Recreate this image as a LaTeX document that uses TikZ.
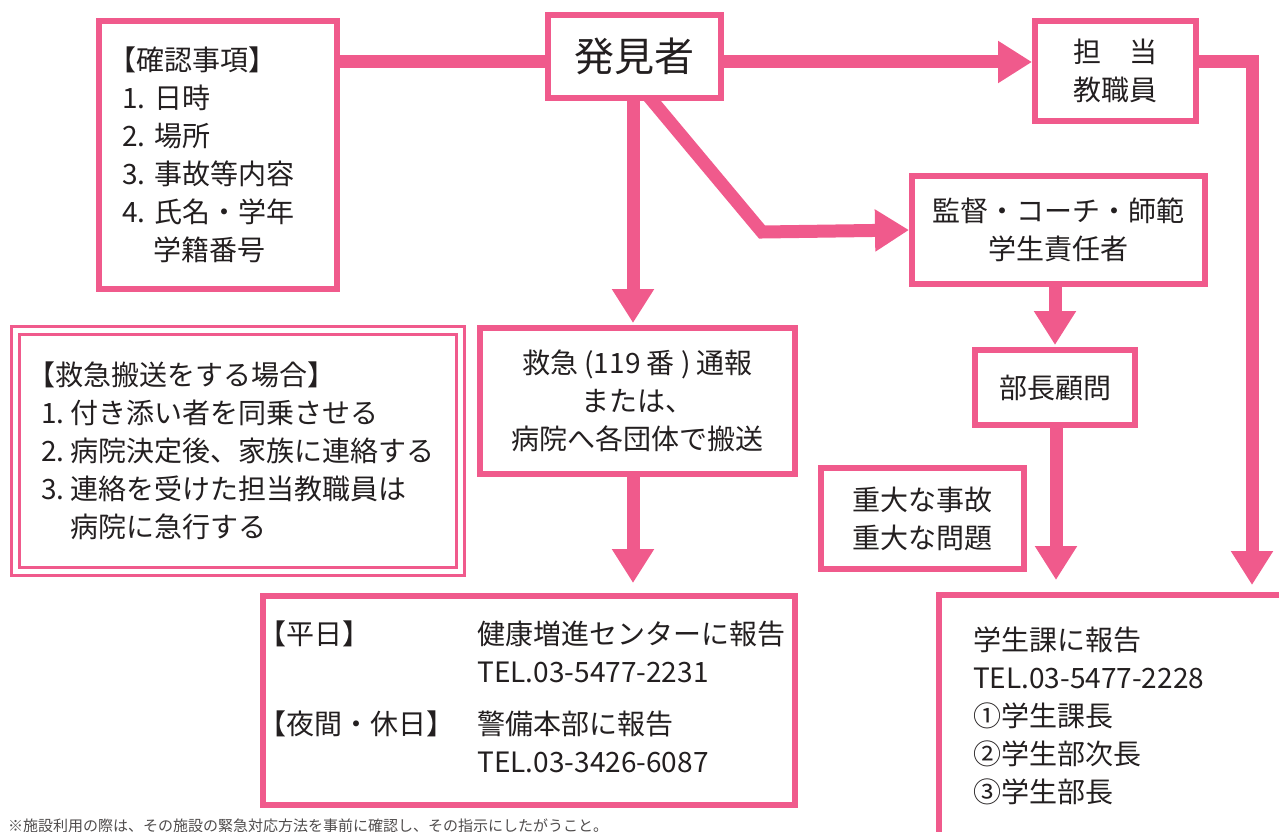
\documentclass[tikz,border=0pt]{standalone}
\usepackage{fontspec}
\setmainfont{Noto Sans CJK JP}
\usetikzlibrary{arrows.meta}
\usetikzlibrary{shadows}
\definecolor{pk}{HTML}{F05A8C}
\definecolor{txt}{HTML}{231F20}
\pgfdeclarelayer{bg}
\pgfsetlayers{bg,main}
\newcommand\lkak{\hspace*{-0.5em}【}
\newcommand\rkak{】\hspace{-0.5em}}
\tikzset{
box/.style={
  draw=pk,
  line width=6pt,
  fill=white,
  inner sep=0pt,
  align=center,
  text=txt,
  font=\fontsize{28}{38}\selectfont\frenchspacing,
  drop shadow={shadow xshift=3pt,shadow yshift=-3pt,opacity=.3}
  },
dbox/.style={
  box,
  line width=3pt,
  double=white,
  double distance=5pt
  },
link/.style={draw=pk,line width=13pt},
flow/.style={link,-{Triangle[width=40pt,length=34pt]}}
}

\begin{document}
\begin{tikzpicture}[x=1pt,y=-1pt]
        \useasboundingbox (0,0) rectangle (1279,832);
        \node[box,minimum width=238pt,minimum height=268pt,text width=192pt,inner xsep=23pt,align=left] at (218,155) (chk)
            {\lkak 確認事項\rkak\\1. 日時\\2. 場所\\3. 事故等内容\\4. 氏名・学年\\\hspace*{31pt}学籍番号};
        \node[box,minimum width=173pt,minimum height=83pt,font=\fontsize{40}{44}\selectfont] at (634.5,56.5) (hk) {発見者};
        \node[box,minimum width=161pt,minimum height=100pt] at (1115.5,71) (tan) {担　当\\教職員};
        \node[box,minimum width=293pt,minimum height=108pt] at (1058.5,230) (kan) {監督・コーチ・師範\\学生責任者};
        \node[box,minimum width=160pt,minimum height=75pt] at (1055,387.5) (bu) {部長顧問};
        \node[box,minimum width=203pt,minimum height=101pt] at (922.5,518.5) (jd) {重大な事故\\重大な問題};
        \node[box,minimum width=315pt,minimum height=146pt] at (637.5,401) (qk) {救急 (119 番 ) 通報\\または、\\病院へ各団体で搬送};
        \node[dbox,minimum width=444.5pt,minimum height=241pt,align=left] at (238,450.5) (kh)
            {\lkak 救急搬送をする場合\rkak\\1. 付き添い者を同乗させる\\2. 病院決定後、家族に連絡する\\3. 連絡を受けた担当教職員は\\\hspace*{29pt}病院に急行する};
        \node[box,minimum width=532pt,minimum height=209pt] at (529,700.5) (wk)
            {\begin{tabular}{@{}p{205pt}@{}l@{}}
             \lkak 平日\rkak & 健康増進センターに報告\\
             & TEL.03-5477-2231\\[14pt]
             \lkak 夜間・休日\rkak & 警備本部に報告\\
             & TEL.03-3426-6087
             \end{tabular}};
        \node[box,minimum width=356pt,minimum height=241pt,text width=288pt,inner xsep=34pt,align=left] at (1117,715.5) (gk)
            {学生課に報告\\TEL.03-5477-2228\\①学生課長\\②学生部次長\\③学生部長};
        \node[anchor=base west,text=txt!80,font=\fontsize{15}{18}\selectfont,inner sep=0pt] at (8,831) (note)
            {※施設利用の際は、その施設の緊急対応方法を事前に確認し、その指示にしたがうこと。};
        \coordinate (knee) at (762,232);
        \begin{pgfonlayer}{bg}
        \path[link] ([yshift=-5.5pt]hk.west -| chk.east) -- ([yshift=-5.5pt]hk.west);
        \path[flow] ([yshift=-5.5pt]hk.east) -- ([yshift=-5.5pt]hk.east -| tan.west);
        \path[flow,shorten >=7pt] ([yshift=9pt]tan.east) -| ([xshift=135pt]gk.north);
        \path[flow,shorten >=2pt] ([xshift=-1.5pt]hk.south) -- ([xshift=-1.5pt]hk.south |- qk.north);
        \path[flow] ([xshift=-2.5pt,yshift=-20pt]hk.center) -- (knee) -- (kan.west);
        \path[flow,shorten >=2pt] ([xshift=-3.5pt]kan.south) -- ([xshift=-3.5pt]kan.south |- bu.north);
        \path[flow,shorten >=12pt] ([xshift=1pt]bu.south) -- ([xshift=1pt]bu.south |- gk.north);
        \path[flow,shorten >=10pt] ([xshift=-4.5pt]qk.south) -- ([xshift=-4.5pt]qk.south |- wk.north);
        \end{pgfonlayer}
\end{tikzpicture}
\end{document}
